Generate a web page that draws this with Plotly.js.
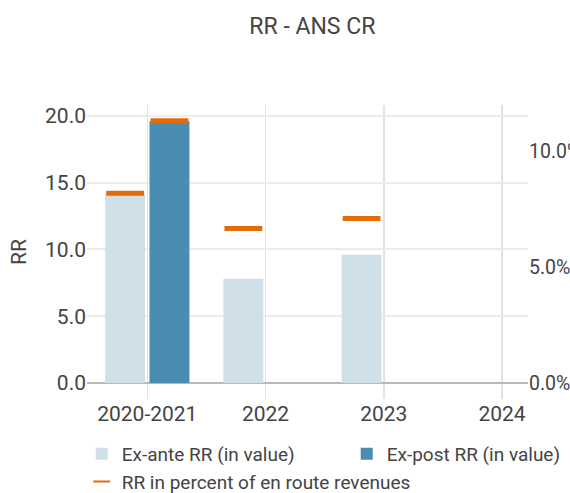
<!DOCTYPE html>
<html>
<head>
<meta charset="utf-8">
<script src="https://cdn.plot.ly/plotly-3.0.1.min.js"></script>
<style>html,body{margin:0;padding:0;background:#fff}#chart{width:570px;height:493px}</style>
</head>
<body>
<div id="chart"></div>
<script>
const categories = ["2020-2021", "2022", "2023", "2024"];
const exAnteRR = [14.2, 7.8, 9.6, null];
const exPostRR = [19.6, null, null, null];
const exAntePct = [0.082, 0.0667, 0.0711, null];
const exPostPct = [0.1133, null, null, null];
const seriesNames = ["Ex-ante RR (in value)", "Ex-post RR (in value)", "RR in percent of en route revenues"];

const orange = "#e36c0a";
const font = "Roboto, 'Open Sans', sans-serif";
const txt = "#444";

const traces = [
  {type: "bar", name: seriesNames[0], x: categories, y: exAnteRR, marker: {color: "#cfe0e8"}, offsetgroup: "a", hoverinfo: "skip"},
  {type: "bar", name: seriesNames[1], x: categories, y: exPostRR, marker: {color: "#4a8db2"}, offsetgroup: "b", hoverinfo: "skip"},
  {type: "scatter", mode: "markers", name: seriesNames[2], x: categories, y: exAntePct, yaxis: "y2", offsetgroup: "a",
   marker: {symbol: "line-ew", size: 27, color: orange, line: {color: orange, width: 5}}, hoverinfo: "skip"},
  {type: "scatter", mode: "markers", name: seriesNames[2], x: categories, y: exPostPct, yaxis: "y2", offsetgroup: "b", showlegend: false,
   marker: {symbol: "line-ew", size: 27, color: orange, line: {color: orange, width: 5}}, hoverinfo: "skip"}
];

const layout = {
  width: 570, height: 493,
  margin: {l: 87, r: 42, t: 105, b: 94, pad: 0, autoexpand: false},
  paper_bgcolor: "#fff", plot_bgcolor: "#fff",
  font: {family: font, color: txt, size: 19},
  title: {text: "RR - ANS CR", x: 0.511, xref: "paper", xanchor: "center", y: 0.948, yanchor: "middle", font: {family: font, size: 23, color: txt}},
  barmode: "group", bargap: 0.25, bargroupgap: 0.1,
  scattermode: "group", scattergap: 0.25,
  showlegend: true,
  legend: {orientation: "h", x: -0.012, xanchor: "left", y: -0.122, yanchor: "top", font: {family: font, size: 19, color: txt},
           entrywidth: 220, entrywidthmode: "pixels", tracegroupgap: 0, traceorder: "normal", itemsizing: "constant"},
  xaxis: {type: "category", range: [-0.51, 3.22], showgrid: true, gridcolor: "#e2e2e2", gridwidth: 1.5,
          showline: false, zeroline: false, ticks: "", tickfont: {size: 21, color: txt}, fixedrange: true},
  yaxis: {title: {text: "RR", font: {size: 21, color: txt}, standoff: 12}, range: [-1.2, 20.82], tickvals: [0, 5, 10, 15, 20], tickformat: ".1f",
          showgrid: true, gridcolor: "#ececec", gridwidth: 2, zeroline: true, zerolinecolor: "#b8b8b8", zerolinewidth: 1.5,
          showline: false, ticks: "", tickfont: {size: 21, color: txt}, fixedrange: true},
  yaxis2: {overlaying: "y", side: "right", range: [-0.0069, 0.1201], tickvals: [0, 0.05, 0.10], tickformat: ".1%",
           showgrid: false, zeroline: false, showline: false, ticks: "",
           tickfont: {size: 19.5, color: txt}, fixedrange: true}
};

Plotly.newPlot("chart", traces, layout, {displayModeBar: false, staticPlot: true});
</script>
</body>
</html>
